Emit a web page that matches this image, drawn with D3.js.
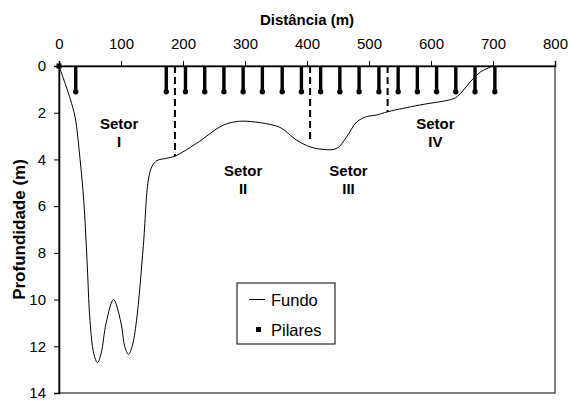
<!DOCTYPE html>
<html>
<head>
<meta charset="utf-8">
<script src="https://cdn.jsdelivr.net/npm/d3@7"></script>
<style>
  body { margin: 0; background: #fff; }
  text { font-family: "Liberation Sans", Arial, sans-serif; fill: #000; }
</style>
</head>
<body>
<script>
// Perfil do fundo (distância m, profundidade m)
var fundoDist = [0, 18, 26, 34, 40, 45, 50, 56, 62, 68, 76, 88, 100, 106, 112, 118, 125, 136, 144, 150, 158, 174, 187, 222, 265, 290, 310, 340, 358, 383, 405, 426, 448, 464, 480, 496, 512, 530, 582, 630, 640, 650, 666, 680, 700];
var fundoProf = [0, 1.4, 2.2, 4.0, 5.8, 8.2, 10.9, 12.3, 12.7, 12.3, 11.0, 10.0, 11.0, 12.0, 12.35, 12.0, 10.9, 7.7, 4.9, 4.3, 4.05, 3.95, 3.86, 3.31, 2.53, 2.37, 2.38, 2.5, 2.65, 3.17, 3.46, 3.57, 3.53, 3.03, 2.4, 2.17, 2.1, 1.96, 1.67, 1.45, 1.35, 1.1, 0.6, 0.25, 0];

// Pilares
var pilarDist = [27, 173, 204, 235, 266, 297, 328, 360, 391, 422, 453, 484, 516, 547, 578, 609, 640, 671, 703];
var pilarProf = 1.1;

// Divisões entre setores
var divisaoDist = [187, 405, 530];
var divisaoProf = [3.86, 3.3, 1.96];

// Rótulos dos setores
var setorNomes = ["I", "II", "III", "IV"];
var setorDist = [97, 297, 467, 607];
var setorProf = [2.5, 4.5, 4.5, 2.5];

var xTicks = [0, 100, 200, 300, 400, 500, 600, 700, 800];
var yTicks = [0, 2, 4, 6, 8, 10, 12, 14];

var w = 568, h = 400;
var margin = {top: 66, right: 13, bottom: 7, left: 59};

var svg = d3.select("body").append("svg")
    .attr("width", w)
    .attr("height", h);

var x = d3.scaleLinear().domain([0, 800]).range([margin.left, w - margin.right]);
var y = d3.scaleLinear().domain([0, 14]).range([margin.top, h - margin.bottom]);

// frame
svg.append("rect")
    .attr("x", x(0)).attr("y", y(0))
    .attr("width", x(800) - x(0)).attr("height", y(14) - y(0))
    .attr("fill", "none").attr("stroke", "#000").attr("stroke-width", 1);

// top axis
var xAxis = svg.append("g")
    .attr("transform", "translate(0," + y(0) + ")")
    .call(d3.axisTop(x).tickValues(xTicks).tickSize(5).tickPadding(12));
xAxis.selectAll("text").style("font-size", "15px");

// left axis
var yAxis = svg.append("g")
    .attr("transform", "translate(" + x(0) + ",0)")
    .call(d3.axisLeft(y).tickValues(yTicks).tickSize(5).tickPadding(8));
yAxis.selectAll("text").style("font-size", "15px");
svg.selectAll(".domain").attr("stroke-width", 1.5);

// titles
svg.append("text")
    .attr("x", (x(0) + x(800)) / 2).attr("y", 25)
    .attr("text-anchor", "middle")
    .style("font-size", "15px").style("font-weight", "bold")
    .text("Distância (m)");

svg.append("text")
    .attr("transform", "translate(25," + (y(0) + y(14)) / 2 + ") rotate(-90)")
    .attr("text-anchor", "middle")
    .style("font-size", "17px").style("font-weight", "bold")
    .text("Profundidade (m)");

// setor dividers
svg.selectAll("line.div")
    .data(divisaoDist)
    .enter().append("line")
    .attr("class", "div")
    .attr("x1", function(d) { return x(d); })
    .attr("x2", function(d) { return x(d); })
    .attr("y1", y(0))
    .attr("y2", function(d, i) { return y(divisaoProf[i]); })
    .attr("stroke", "#000").attr("stroke-width", 2)
    .attr("stroke-dasharray", "7,4");

// pilares
var pil = svg.selectAll("g.pilar")
    .data(pilarDist)
    .enter().append("g")
    .attr("class", "pilar");
pil.append("line")
    .attr("x1", function(d) { return x(d); })
    .attr("x2", function(d) { return x(d); })
    .attr("y1", y(0))
    .attr("y2", y(pilarProf))
    .attr("stroke", "#000").attr("stroke-width", 3.4);
pil.append("circle")
    .attr("cx", function(d) { return x(d); })
    .attr("cy", y(pilarProf))
    .attr("r", 2.7);

svg.append("rect")
    .attr("x", x(0) - 2.5).attr("y", y(0) - 2.5)
    .attr("width", 5).attr("height", 5);

// fundo
var line = d3.line()
    .x(function(d) { return x(d[0]); })
    .y(function(d) { return y(d[1]); })
    .curve(d3.curveCatmullRom.alpha(0.5));

svg.append("path")
    .datum(d3.zip(fundoDist, fundoProf))
    .attr("d", line)
    .attr("fill", "none").attr("stroke", "#000").attr("stroke-width", 1);

// setor labels
var lab = svg.selectAll("g.setor")
    .data(setorNomes)
    .enter().append("g")
    .attr("class", "setor");
lab.append("text")
    .attr("x", function(d, i) { return x(setorDist[i]); })
    .attr("y", function(d, i) { return y(setorProf[i]) + 5; })
    .attr("text-anchor", "middle")
    .style("font-size", "15px").style("font-weight", "bold")
    .text("Setor");
lab.append("text")
    .attr("x", function(d, i) { return x(setorDist[i]); })
    .attr("y", function(d, i) { return y(setorProf[i]) + 22.5; })
    .attr("text-anchor", "middle")
    .style("font-size", "15px").style("font-weight", "bold")
    .text(function(d) { return d; });

// legend
var lg = svg.append("g").attr("transform", "translate(237,283)");
lg.append("rect")
    .attr("width", 98).attr("height", 61)
    .attr("fill", "#fff").attr("stroke", "#000").attr("stroke-width", 1);
lg.append("line")
    .attr("x1", 12).attr("x2", 28).attr("y1", 16.5).attr("y2", 16.5)
    .attr("stroke", "#000").attr("stroke-width", 1);
lg.append("text")
    .attr("x", 34).attr("y", 22.5)
    .style("font-size", "16.5px")
    .text("Fundo");
lg.append("rect")
    .attr("x", 19).attr("y", 44).attr("width", 5).attr("height", 5);
lg.append("text")
    .attr("x", 34).attr("y", 52.5)
    .style("font-size", "16.5px")
    .text("Pilares");
</script>
</body>
</html>
